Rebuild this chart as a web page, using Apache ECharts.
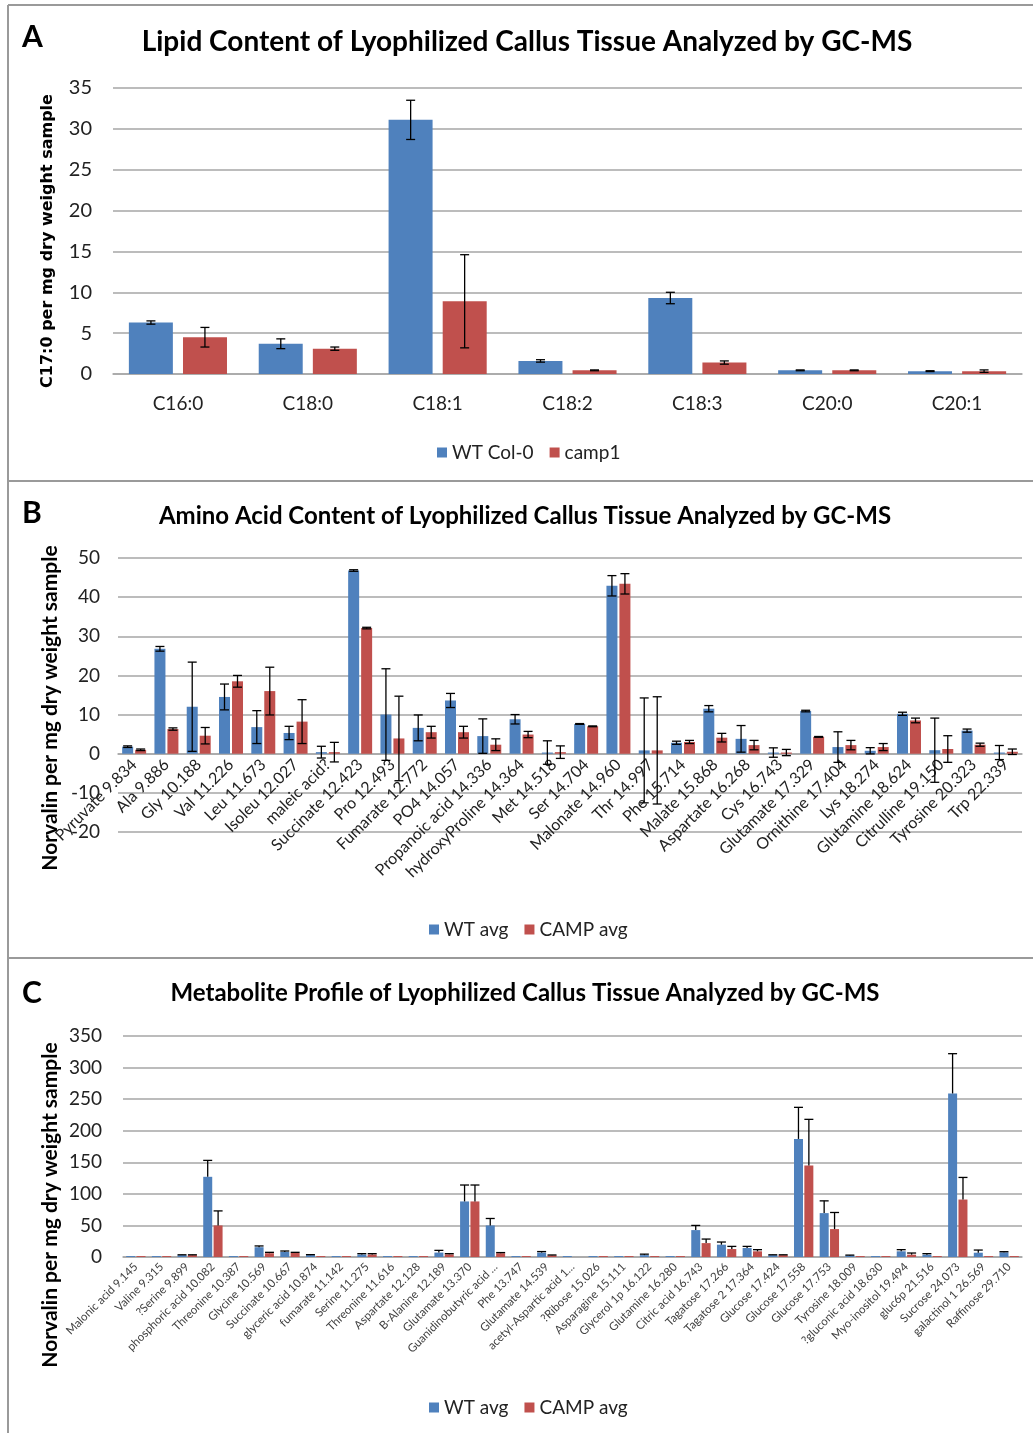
<!DOCTYPE html>
<html><head><meta charset="utf-8">
<script src="https://cdn.jsdelivr.net/npm/echarts@6/dist/echarts.min.js"></script>
<style>html,body{margin:0;padding:0;background:#fff}#c{width:1033px;height:1433px}</style>
</head><body><div id="c"></div>
<script>
// ---------- Panel A data ----------
const lipidCats = ['C16:0','C18:0','C18:1','C18:2','C18:3','C20:0','C20:1'];
const lipidWT = [6.3,3.7,31.1,1.6,9.3,0.45,0.35];
const lipidWTErr = [0.2,0.6,2.4,0.15,0.7,0.05,0.05];
const lipidCamp = [4.5,3.1,8.9,0.45,1.4,0.45,0.35];
const lipidCampErr = [1.2,0.2,5.7,0.05,0.2,0.05,0.15];
const lipidTicks = [0,5,10,15,20,25,30,35];

// ---------- Panel B data ----------
const aaCats = ['Pyruvate 9.834','Ala 9.886','Gly 10.188','Val 11.226','Leu 11.673','Isoleu 12.027','maleic acid?','Succinate 12.423','Pro 12.493','Fumarate 12.772','PO4 14.057','Propanoic acid 14.336','hydroxyProline 14.364','Met 14.518','Ser 14.704','Malonate 14.960','Thr 14.997','Phe 15.714','Malate 15.868','Aspartate 16.268','Cys 16.743','Glutamate 17.329','Ornithine 17.404','Lys 18.274','Glutamine 18.624','Citrulline 19.150','Tyrosine 20.323','Trp 22.339'];
const aaWT = [1.8,26.8,12.0,14.5,6.8,5.3,0.4,46.8,10.0,6.6,13.6,4.5,8.8,0.3,7.6,42.9,0.85,2.8,11.5,3.8,0.3,10.9,1.7,0.75,10.2,0.9,5.9,0.3];
const aaWTErr = [0.2,0.6,11.4,3.3,4.2,1.7,1.5,0.2,11.7,3.3,1.8,4.4,1.2,3.0,0.1,2.6,13.4,0.4,0.8,3.4,1.2,0.2,3.9,0.8,0.4,8.2,0.4,1.8];
const aaCamp = [1.0,6.3,4.6,18.5,16.0,8.2,0.4,32.1,3.9,5.5,5.5,2.3,4.9,0.4,7.0,43.4,0.85,3.0,4.1,2.2,0.3,4.3,2.2,1.7,8.5,1.2,2.3,0.5];
const aaCampErr = [0.2,0.3,2.1,1.5,6.1,5.6,2.5,0.2,10.8,1.5,1.5,1.5,0.8,1.6,0.1,2.6,13.7,0.4,1.1,1.2,0.8,0.1,1.2,0.9,0.6,3.4,0.4,0.7];
const aaTicks = [-20,-10,0,10,20,30,40,50];

// ---------- Panel C data ----------
const metCats = ['Malonic acid 9.145','Valine 9.315','?Serine 9.899','phosphoric acid 10.082','Threonine 10.387','Glycine 10.569','Succinate 10.667','glyceric acid 10.874','fumarate 11.142','Serine 11.275','Threonine 11.616','Aspartate 12.128','B-Alanine 12.189','Glutamate 13.370','Guanidinobutyric acid ...','Phe 13.747','Glutamate 14.539','acetyl-Aspartic acid 1...','?Ribose 15.026','Asparagine 15.111','Glycerol 1p 16.122','Glutamine 16.280','Citric acid 16.743','Tagatose 17.266','Tagatose 2 17.364','Glucose 17.424','Glucose 17.558','Glucose 17.753','Tyrosine 18.009','?gluconic acid 18.630','Myo-inositol 19.494','gluc6p 21.516','Sucrose 24.073','galactinol 1 26.569','Raffinose 29.710'];
const metWT = [1.5,1.5,3,127,1.5,15.5,8,3,1.5,4,1.5,1.5,7,88,50,1.5,7,1.5,1.5,1.5,3,1.5,42.6,19.5,14.2,3,187,69.5,2.5,1.5,9,3.7,259,6.8,7.4];
const metWTErr = [0,0,0.5,26,0,2,1.5,0.7,0,1.3,0,0,3.5,26,11,0,1.6,0,0,0,1.5,0,7.4,4.2,2.6,0.5,50,19.4,0.5,0,2.6,1.6,63,4.2,1.0];
const metCamp = [1.5,1.5,3,50,1.5,6,6.3,1.5,1.5,4,1.5,1.5,4.2,88,6,1.5,2.6,0,1.5,1.5,1.5,1.5,22,12.6,9,3,145,44.2,1.5,1.5,3.7,1.5,91,1.5,1.5];
const metCampErr = [0,0,0.5,23,0,1.4,1.1,0,0,1.3,0,0,1.1,26,1,0,0.6,0,0,0,0,0,6.4,4.2,2.6,0.5,73,26.3,0,0,2.6,0,35,0,0];
const metTicks = [0,50,100,150,200,250,300,350];

const BLUE = '#4F81BD', RED = '#C0504D';
const FONT = 'Lato, "Liberation Sans", sans-serif';
const GRID_LINE = '#A6A6A6';

function errSeries(xi, vals, errs, sign, barW, gapPx, capW, plusOnly) {
  const off = sign * (barW + gapPx) / 2;
  return {
    type: 'custom', xAxisIndex: xi, yAxisIndex: xi, silent: true, z: 10,
    data: vals.map((v, i) => [i, v, errs[i]]),
    renderItem: function (params, api) {
      const i = api.value(0), v = api.value(1), e = api.value(2);
      if (!e) return null;
      const t = api.coord([i, v + e]);
      const b = api.coord([i, plusOnly ? v : v - e]);
      const x = t[0] + off;
      const st = { stroke: '#000', lineWidth: 1.3 };
      const ch = [
        { type: 'line', shape: { x1: x, y1: t[1], x2: x, y2: b[1] }, style: st },
        { type: 'line', shape: { x1: x - capW / 2, y1: t[1], x2: x + capW / 2, y2: t[1] }, style: st }
      ];
      if (!plusOnly) ch.push({ type: 'line', shape: { x1: x - capW / 2, y1: b[1], x2: x + capW / 2, y2: b[1] }, style: st });
      return { type: 'group', children: ch };
    }
  };
}

function yAxisDef(gi, ticks, labelSize, margin) {
  return {
    gridIndex: gi, type: 'value', min: ticks[0], max: ticks[ticks.length - 1], interval: ticks[1] - ticks[0],
    axisLine: { show: false }, axisTick: { show: false },
    axisLabel: { fontFamily: FONT, fontSize: labelSize, color: '#222', margin: margin },
    splitLine: { lineStyle: { color: GRID_LINE, width: 1.5 } }
  };
}

function vText(x, y, text, font) {
  return { type: 'text', x: x, y: y, rotation: Math.PI / 2,
    style: { text: text, font: font, fill: '#000', textAlign: 'center', textVerticalAlign: 'middle' } };
}

const chart = echarts.init(document.getElementById('c'), null, { renderer: 'canvas' });

const legendText = { fontFamily: FONT, fontSize: 19, color: '#222' };

const option = {
  animation: false,
  backgroundColor: '#fff',
  grid: [
    { left: 113, right: 11, top: 88, height: 286 },
    { left: 118, right: 11, top: 558, height: 274 },
    { left: 123, right: 11, top: 1036, height: 221 }
  ],
  xAxis: [
    { gridIndex: 0, type: 'category', data: lipidCats,
      axisLine: { lineStyle: { color: GRID_LINE, width: 1.5 } }, axisTick: { show: false },
      axisLabel: { fontFamily: FONT, fontSize: 19, color: '#222', margin: 20 } },
    { gridIndex: 1, type: 'category', data: aaCats, offset: -78,
      axisLine: { onZero: false, lineStyle: { color: GRID_LINE, width: 1.5 } }, axisTick: { show: false },
      axisLabel: { fontFamily: FONT, fontSize: 16, color: '#222', rotate: 45, interval: 0, margin: 8 } },
    { gridIndex: 2, type: 'category', data: metCats,
      axisLine: { lineStyle: { color: GRID_LINE, width: 1.5 } }, axisTick: { show: false },
      axisLabel: { fontFamily: FONT, fontSize: 11.5, color: '#404040', rotate: 45, interval: 0, margin: 8 } }
  ],
  yAxis: [
    yAxisDef(0, lipidTicks, 20, 21),
    yAxisDef(1, aaTicks, 19, 18),
    yAxisDef(2, metTicks, 19, 21)
  ],
  legend: [
    { data: ['WT Col-0', 'camp1'], left: 432, top: 438, icon: 'rect', itemWidth: 10, itemHeight: 10, itemGap: 16, textStyle: legendText },
    { data: ['WT avg', 'CAMP avg'], left: 424, top: 915, icon: 'rect', itemWidth: 10, itemHeight: 10, itemGap: 16, textStyle: legendText },
    { data: ['WT avg', 'CAMP avg'], left: 424, top: 1393, icon: 'rect', itemWidth: 10, itemHeight: 10, itemGap: 16, textStyle: legendText }
  ],
  series: [
    { name: 'WT Col-0', type: 'bar', xAxisIndex: 0, yAxisIndex: 0, data: lipidWT, barWidth: 44, barGap: '23%', itemStyle: { color: BLUE } },
    { name: 'camp1', type: 'bar', xAxisIndex: 0, yAxisIndex: 0, data: lipidCamp, barWidth: 44, barGap: '23%', itemStyle: { color: RED } },
    errSeries(0, lipidWT, lipidWTErr, -1, 44, 10, 9, false),
    errSeries(0, lipidCamp, lipidCampErr, 1, 44, 10, 9, false),

    { name: 'WT avg', type: 'bar', xAxisIndex: 1, yAxisIndex: 1, data: aaWT, barWidth: 11, barGap: '18%', itemStyle: { color: BLUE } },
    { name: 'CAMP avg', type: 'bar', xAxisIndex: 1, yAxisIndex: 1, data: aaCamp, barWidth: 11, barGap: '18%', itemStyle: { color: RED } },
    errSeries(1, aaWT, aaWTErr, -1, 11, 2, 9, false),
    errSeries(1, aaCamp, aaCampErr, 1, 11, 2, 9, false),

    { name: 'WT avg', type: 'bar', xAxisIndex: 2, yAxisIndex: 2, data: metWT, barWidth: 9, barGap: '15%', itemStyle: { color: BLUE } },
    { name: 'CAMP avg', type: 'bar', xAxisIndex: 2, yAxisIndex: 2, data: metCamp, barWidth: 9, barGap: '15%', itemStyle: { color: RED } },
    errSeries(2, metWT, metWTErr, -1, 9, 1.4, 9, true),
    errSeries(2, metCamp, metCampErr, 1, 9, 1.4, 9, true)
  ],
  graphic: [
    { type: 'line', shape: { x1: 8, y1: 5, x2: 1033, y2: 5 }, style: { stroke: '#9a9a9a', lineWidth: 2 } },
    { type: 'line', shape: { x1: 8, y1: 5, x2: 8, y2: 1433 }, style: { stroke: '#9a9a9a', lineWidth: 2 } },
    { type: 'line', shape: { x1: 8, y1: 481, x2: 1033, y2: 481 }, style: { stroke: '#9a9a9a', lineWidth: 2 } },
    { type: 'line', shape: { x1: 8, y1: 958, x2: 1033, y2: 958 }, style: { stroke: '#9a9a9a', lineWidth: 2 } },
    { type: 'text', x: 22, y: 37, style: { text: 'A', font: 'bold 30px ' + FONT, fill: '#000', textVerticalAlign: 'middle' } },
    { type: 'text', x: 22, y: 513, style: { text: 'B', font: 'bold 30px ' + FONT, fill: '#000', textVerticalAlign: 'middle' } },
    { type: 'text', x: 22, y: 993, style: { text: 'C', font: 'bold 30px ' + FONT, fill: '#000', textVerticalAlign: 'middle' } },
    { type: 'text', x: 527, y: 42, style: { text: 'Lipid Content of Lyophilized Callus Tissue Analyzed by GC-MS', font: 'bold 28px ' + FONT, fill: '#000', textAlign: 'center', textVerticalAlign: 'middle' } },
    { type: 'text', x: 525, y: 516, style: { text: 'Amino Acid Content of Lyophilized Callus Tissue Analyzed by GC-MS', font: 'bold 24px ' + FONT, fill: '#000', textAlign: 'center', textVerticalAlign: 'middle' } },
    { type: 'text', x: 525, y: 993, style: { text: 'Metabolite Profile of Lyophilized Callus Tissue Analyzed by GC-MS', font: 'bold 24px ' + FONT, fill: '#000', textAlign: 'center', textVerticalAlign: 'middle' } },
    vText(48, 241, 'C17:0 per mg dry weight sample', 'bold 16px "DejaVu Sans", sans-serif'),
    vText(50, 708, 'Norvalin per mg dry weight sample', 'bold 21px ' + FONT),
    vText(50, 1205, 'Norvalin per mg dry weight sample', 'bold 21px ' + FONT)
  ]
};
chart.setOption(option);
</script>
</body></html>
